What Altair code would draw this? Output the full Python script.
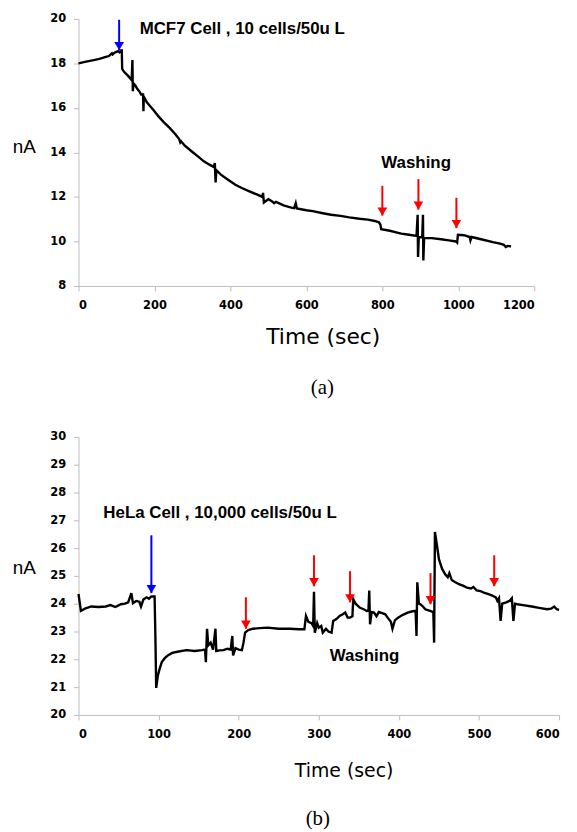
import altair as alt
import pandas as pd

# ---------------- Panel (a): MCF7 ----------------
a_time = [0, 20, 40, 55, 70, 80, 88, 90, 95, 100, 104, 108, 112, 114, 115, 120, 130, 140, 142, 143,
          145, 150, 155, 160, 165, 170, 171, 172, 180, 190, 200, 210, 225, 240, 255, 265, 268, 270,
          280, 300, 316, 330, 345, 356, 359, 361, 363, 375, 390, 413, 430, 450, 471, 484, 486, 488,
          500, 510, 515, 520, 540, 560, 568, 572, 575, 600, 617, 640, 665, 690, 713, 740, 762, 780,
          791, 795, 797, 820, 839, 850, 870, 890, 893, 894, 896, 905, 907, 908, 910, 930, 955, 975,
          994, 997, 999, 1015, 1030, 1032, 1035, 1060, 1091, 1110, 1120, 1125, 1130, 1139]
a_nA = [18.00, 18.08, 18.15, 18.20, 18.28, 18.33, 18.45, 18.40, 18.48, 18.52, 18.55, 18.50, 18.58, 18.58,
        17.75, 17.62, 17.45, 17.25, 18.15, 16.75, 17.10, 17.00, 16.85, 16.75, 16.60, 16.60, 15.85, 16.50,
        16.25, 16.05, 15.85, 15.63, 15.35, 15.10, 14.82, 14.60, 14.45, 14.50, 14.30, 14.02, 13.80, 13.60,
        13.45, 13.35, 13.52, 12.65, 13.20, 13.00, 12.82, 12.55, 12.40, 12.25, 12.10, 12.00, 12.18, 11.75,
        11.90, 11.80, 11.72, 11.78, 11.62, 11.52, 11.50, 11.72, 11.48, 11.40, 11.36, 11.28, 11.20, 11.15,
        11.08, 11.02, 10.98, 10.92, 10.86, 10.75, 10.55, 10.48, 10.40, 10.35, 10.30, 10.25, 11.20, 9.30,
        10.20, 10.18, 11.20, 9.15, 10.15, 10.15, 10.10, 10.05, 10.00, 9.95, 10.30, 10.28, 10.20, 10.05,
        10.20, 10.10, 9.97, 9.90, 9.85, 9.75, 9.80, 9.78]

a_arrow_time = [107, 800, 895, 995]
a_arrow_top = [19.96, 12.5, 12.8, 11.96]
a_arrow_tip = [18.6, 11.16, 11.43, 10.6]
a_arrow_color = ["#0000ff", "#ff0000", "#ff0000", "#ff0000"]

a_text = ["MCF7 Cell , 10 cells/50u L", "Washing"]
a_text_time = [161, 889]
a_text_nA = [19.56, 13.52]
a_text_align = ["left", "center"]

a_xticks = [0, 200, 400, 600, 800, 1000, 1200]
a_yticks = [8, 10, 12, 14, 16, 18, 20]

# ---------------- Panel (b): HeLa ----------------
b_time = [0, 2, 3, 8, 16, 25, 34, 40, 46, 53, 58, 62, 66, 68, 72, 76, 78, 81, 85, 88, 91, 95, 96, 97,
          99, 101, 104, 108, 112, 117, 125, 135, 145, 154, 158, 159, 160.5, 162, 165, 168, 171, 172,
          176, 181, 186, 190, 192, 193, 196, 200, 204, 206, 208, 212, 218, 226, 236, 250, 264, 275,
          282, 284, 287, 291, 293, 294, 295, 298, 300, 303, 305, 309, 312, 316, 318, 322, 326, 330,
          333, 336, 339, 342, 343, 346, 351, 356, 360, 362, 363, 364, 366, 369, 372, 375, 380, 383,
          386, 390, 392, 395, 399, 405, 411, 416, 420, 421, 422, 423, 425, 427, 430, 433, 438, 443,
          444, 445, 447, 450, 454, 458, 461, 463, 466, 470, 475, 480, 485, 490, 493, 497, 502, 506,
          511, 516, 521, 523, 525, 527, 529, 534, 538, 541, 543, 545, 548, 555, 566, 575, 585, 590,
          594, 597, 600]
b_nA = [24.35, 23.95, 23.74, 23.82, 23.90, 23.88, 23.90, 23.95, 23.88, 23.98, 24.00, 24.05, 24.38, 24.02,
        24.10, 24.07, 23.90, 24.15, 24.23, 24.18, 24.26, 24.26, 22.84, 20.97, 21.40, 21.63, 21.90, 22.05,
        22.15, 22.23, 22.28, 22.33, 22.30, 22.33, 22.35, 21.90, 23.10, 22.50, 22.60, 22.35, 23.10, 22.30,
        22.32, 22.33, 22.38, 22.35, 22.84, 22.14, 22.40, 22.35, 22.33, 22.60, 22.96, 23.05, 23.10, 23.12,
        23.14, 23.10, 23.10, 23.08, 23.08, 23.56, 23.35, 23.30, 23.20, 24.43, 22.96, 23.30, 23.14, 23.20,
        22.96, 23.10, 23.00, 22.96, 23.38, 23.45, 23.56, 23.62, 23.68, 23.50, 23.50, 23.55, 24.17, 24.00,
        23.86, 23.80, 23.74, 23.75, 24.47, 23.26, 23.70, 23.68, 23.55, 23.70, 23.65, 23.62, 23.50, 23.35,
        23.10, 23.40, 23.50, 23.60, 23.68, 23.72, 23.74, 23.65, 22.84, 24.77, 24.00, 23.98, 23.90, 23.80,
        23.75, 23.70, 22.60, 26.58, 26.20, 25.60, 25.25, 25.05, 24.95, 25.10, 24.85, 24.78, 24.70, 24.65,
        24.58, 24.55, 24.60, 24.48, 24.45, 24.40, 24.35, 24.30, 24.23, 24.10, 24.20, 23.38, 24.00, 24.05,
        24.10, 24.20, 23.38, 24.00, 23.98, 23.95, 23.90, 23.85, 23.80, 23.82, 23.90, 23.80, 23.78]

b_arrow_time = [91, 209, 294, 339, 439.5, 519]
b_arrow_top = [26.46, 24.23, 25.74, 25.17, 25.10, 25.74]
b_arrow_tip = [24.38, 23.10, 24.63, 24.05, 23.98, 24.63]
b_arrow_color = ["#0000ff", "#ff0000", "#ff0000", "#ff0000", "#ff0000", "#ff0000"]

b_text = ["HeLa Cell , 10,000 cells/50u  L", "Washing"]
b_text_time = [31, 357]
b_text_nA = [27.25, 22.1]
b_text_align = ["left", "center"]

b_xticks = [0, 100, 200, 300, 400, 500, 600]
b_yticks = [20, 21, 22, 23, 24, 25, 26, 27, 28, 29, 30]

AXIS_GREY = "#bdbdbd"
LABEL_FONT = "DejaVu Sans"


def panel(times, vals, ar_t, ar_top, ar_tip, ar_col, txt, txt_t, txt_v, txt_al,
          xdom, ydom, xticks, yticks, w, h, label, title_dx, xtitle_x, ytitle_y,
          xtitle_size, xtitle_pad, label_offset):
    line_df = pd.DataFrame({"t": times, "v": vals})
    arr_df = pd.DataFrame({"t": ar_t, "top": ar_top, "tip": ar_tip, "c": ar_col})
    txt_df = pd.DataFrame({"t": txt_t, "v": txt_v, "s": txt, "al": txt_al})

    xs = alt.Scale(domain=xdom, nice=False, zero=False)
    ys = alt.Scale(domain=ydom, nice=False, zero=False)
    xax = alt.Axis(values=xticks, format="d", grid=False, domainColor=AXIS_GREY,
                   tickColor=AXIS_GREY, tickSize=5, labelFont=LABEL_FONT,
                   labelFontWeight="bold", labelFontSize=11.5, labelColor="black",
                   labelPadding=9, labelOverlap=False, title="Time (sec)", titleFont=LABEL_FONT,
                   titleFontSize=xtitle_size, titleFontWeight="normal", titleColor="black",
                   titlePadding=xtitle_pad, titleX=xtitle_x, titleAlign="center")
    yax = alt.Axis(values=yticks, format="d", grid=False, domainColor=AXIS_GREY,
                   tickColor=AXIS_GREY, tickSize=5, labelFont=LABEL_FONT,
                   labelFontWeight="bold", labelFontSize=11.5, labelColor="black",
                   labelPadding=8, labelOverlap=False, title="nA", titleAngle=0,
                   titleFont="Liberation Sans", titleFontSize=19, titleFontWeight="normal",
                   titleColor="black", titleX=-55, titleY=ytitle_y, titleAlign="center",
                   titleBaseline="middle")

    def X(field):
        return alt.X(field, scale=xs, axis=xax, title="Time (sec)")

    def Y(field):
        return alt.Y(field, scale=ys, axis=yax, title="nA")

    line = alt.Chart(line_df).mark_line(color="black", strokeWidth=2.4).encode(
        x=X("t:Q"), y=Y("v:Q"),
    )
    shaft = alt.Chart(arr_df).mark_rule(strokeWidth=2).encode(
        x=X("t:Q"), y=Y("top:Q"), y2="tip:Q",
        color=alt.Color("c:N", scale=None)
    )
    head = alt.Chart(arr_df).mark_point(shape="triangle-down", filled=True, size=95,
                                        opacity=1, yOffset=-4).encode(
        x=X("t:Q"), y=Y("tip:Q"),
        color=alt.Color("c:N", scale=None)
    )
    layers = [line, shaft, head]
    for i in range(len(txt)):
        sub = txt_df.iloc[[i]]
        layers.append(alt.Chart(sub).mark_text(
            align=txt_al[i], baseline="middle", font="Liberation Sans",
            fontSize=17, fontWeight="bold", color="black").encode(
            x=X("t:Q"), y=Y("v:Q"), text="s:N"))
    return alt.layer(*layers).properties(
        width=w, height=h,
        title=alt.TitleParams(label, orient="bottom", font="Liberation Serif", fontSize=21,
                              fontWeight="normal", color="black", frame="group",
                              anchor="middle", dx=title_dx, offset=label_offset),
    )


top = panel(a_time, a_nA, a_arrow_time, a_arrow_top, a_arrow_tip, a_arrow_color,
            a_text, a_text_time, a_text_nA, a_text_align,
            [0, 1200], [8, 20], a_xticks, a_yticks, 459, 269, "(a)", 16, 246, 129,
            22, 15, 30)
bottom = panel(b_time, b_nA, b_arrow_time, b_arrow_top, b_arrow_tip, b_arrow_color,
               b_text, b_text_time, b_text_nA, b_text_align,
               [0, 600], [20, 30], b_xticks, b_yticks, 484, 280, "(b)", -1, 267, 132,
               19, 22, 27)

chart = alt.vconcat(top, bottom, spacing=33).properties(
    padding={"left": 4, "top": 2, "right": 5, "bottom": 5}
).configure_view(stroke=None)

chart.save("out.html", embed_options={"renderer": "svg", "actions": False})
